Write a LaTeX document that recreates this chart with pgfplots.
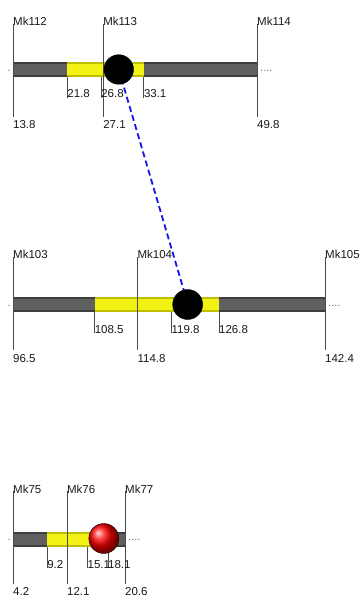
\documentclass[border=0pt]{standalone}
\usepackage{pgfplots}
\pgfplotsset{compat=1.18}
\usepackage{fontspec}
\setmainfont{Liberation Sans}
\definecolor{barG}{RGB}{96,96,96}
\definecolor{barGd}{RGB}{62,62,62}
\definecolor{yel}{RGB}{242,242,20}
\definecolor{yeld}{RGB}{190,190,0}
\definecolor{lineG}{RGB}{75,75,75}
\definecolor{dashB}{RGB}{20,20,235}
\definecolor{txt}{RGB}{25,25,25}
\begin{document}
\begin{tikzpicture}
\useasboundingbox (0,0) rectangle (361pt,596pt);
\begin{axis}[at={(0,0)}, anchor=south west, scale only axis,
  width=361pt, height=596pt, xmin=0, xmax=361, ymin=0, ymax=596,
  y dir=reverse, hide axis, clip=false,
  p1/.style={x filter/.expression={13+(x-13.8)*6.7778}},
  p2/.style={x filter/.expression={13+(x-96.5)*6.7974}},
  p3/.style={x filter/.expression={13+(x-4.2)*6.8293}},
  bar/.style={line width=15pt, color=barGd},
  barin/.style={line width=11pt, color=barG},
  ci/.style={line width=15pt, color=yeld},
  ciin/.style={line width=11pt, color=yel},
  mk/.style={line width=0.8pt, color=lineG, unbounded coords=jump},
  lbl/.style={draw=none, mark=none, nodes near coords, point meta=explicit symbolic,
    every node near coord/.append style={anchor=base west, inner sep=0pt, text=txt,
      font=\fontsize{11.5}{13}\selectfont}},
  dots/.style={draw=none, mark=none, nodes near coords, point meta=explicit symbolic,
    every node near coord/.append style={anchor=base west, inner sep=0pt, text=black!55,
      font=\fontsize{11}{12}\selectfont, xshift=3pt}},
  ldot/.style={draw=none, mark=none, nodes near coords, point meta=explicit symbolic,
    every node near coord/.append style={anchor=base east, inner sep=0pt, text=black!55,
      font=\fontsize{11}{12}\selectfont, xshift=-2pt}},
]
% link between the two peaks (pixel positions of the peaks)
\addplot[dashB, line width=1.8pt, dash pattern=on 6pt off 3.5pt] coordinates {(118.7,69.5) (188,304.5)};

% ---------- panel 1 ----------
\addplot[p1, bar] coordinates {(13.8,70) (49.8,70)};
\addplot[p1, barin] coordinates {(13.8,70) (49.8,70)};
\addplot[p1, ci] coordinates {(21.8,70) (33.1,70)};
\addplot[p1, ciin] coordinates {(21.8,70) (33.1,70)};
\addplot[p1, mk] coordinates {(13.8,24) (13.8,117) (nan,nan) (27.1,24) (27.1,117) (nan,nan) (49.8,24) (49.8,117)};
\addplot[p1, mk] coordinates {(21.8,77.5) (21.8,98) (nan,nan) (26.8,77.5) (26.8,98) (nan,nan) (33.1,77.5) (33.1,98)};
\addplot[p1, only marks, mark=*, mark size=14.8pt, black] coordinates {(29.4,69.5)};
\addplot[p1, lbl] table[meta=l, row sep=\\] {x y l\\ 13.8 26 Mk112\\ 27.1 26 Mk113\\ 49.8 26 Mk114\\
  13.8 129 13.8\\ 27.1 129 27.1\\ 49.8 129 49.8\\ 21.8 98 21.8\\ 26.8 98 26.8\\ 33.1 98 33.1\\};
\addplot[p1, dots] table[meta=l, row sep=\\] {x y l\\ 49.8 71.5 ....\\};
\addplot[p1, ldot] table[meta=l, row sep=\\] {x y l\\ 13.8 71.5 .\\};

% ---------- panel 2 ----------
\addplot[p2, bar] coordinates {(96.5,304.5) (142.4,304.5)};
\addplot[p2, barin] coordinates {(96.5,304.5) (142.4,304.5)};
\addplot[p2, ci] coordinates {(108.5,304.5) (126.8,304.5)};
\addplot[p2, ciin] coordinates {(108.5,304.5) (126.8,304.5)};
\addplot[p2, mk] coordinates {(96.5,257) (96.5,350) (nan,nan) (114.8,257) (114.8,350) (nan,nan) (142.4,257) (142.4,350)};
\addplot[p2, mk] coordinates {(108.5,312) (108.5,333) (nan,nan) (119.8,312) (119.8,333) (nan,nan) (126.8,312) (126.8,333)};
\addplot[p2, only marks, mark=*, mark size=15pt, black] coordinates {(122.2,304.5)};
\addplot[p2, lbl] table[meta=l, row sep=\\] {x y l\\ 96.5 258.5 Mk103\\ 114.8 258.5 Mk104\\ 142.4 258.5 Mk105\\
  96.5 362 96.5\\ 114.8 362 114.8\\ 142.4 362 142.4\\ 108.5 333 108.5\\ 119.8 333 119.8\\ 126.8 333 126.8\\};
\addplot[p2, dots] table[meta=l, row sep=\\] {x y l\\ 142.4 306 ....\\};
\addplot[p2, ldot] table[meta=l, row sep=\\] {x y l\\ 96.5 306 .\\};

% ---------- panel 3 ----------
\addplot[p3, bar] coordinates {(4.2,539) (20.6,539)};
\addplot[p3, barin] coordinates {(4.2,539) (20.6,539)};
\addplot[p3, ci] coordinates {(9.2,539) (18.1,539)};
\addplot[p3, ciin] coordinates {(9.2,539) (18.1,539)};
\addplot[p3, mk] coordinates {(4.2,491) (4.2,584) (nan,nan) (12.1,491) (12.1,584) (nan,nan) (20.6,491) (20.6,584)};
\addplot[p3, mk] coordinates {(9.2,546.5) (9.2,568) (nan,nan) (15.1,546.5) (15.1,568) (nan,nan) (18.1,546.5) (18.1,568)};
\addplot[p3, only marks, mark=ball, ball color=red, mark size=15pt] coordinates {(17.5,538.5)};
\addplot[p3, lbl] table[meta=l, row sep=\\] {x y l\\ 4.2 493 Mk75\\ 12.1 493 Mk76\\ 20.6 493 Mk77\\
  4.2 595 4.2\\ 12.1 595 12.1\\ 20.6 595 20.6\\ 9.2 568 9.2\\ 15.1 568 15.1\\ 18.1 568 18.1\\};
\addplot[p3, dots] table[meta=l, row sep=\\] {x y l\\ 20.6 540.5 ....\\};
\addplot[p3, ldot] table[meta=l, row sep=\\] {x y l\\ 4.2 540.5 .\\};
\end{axis}
\end{tikzpicture}
\end{document}
